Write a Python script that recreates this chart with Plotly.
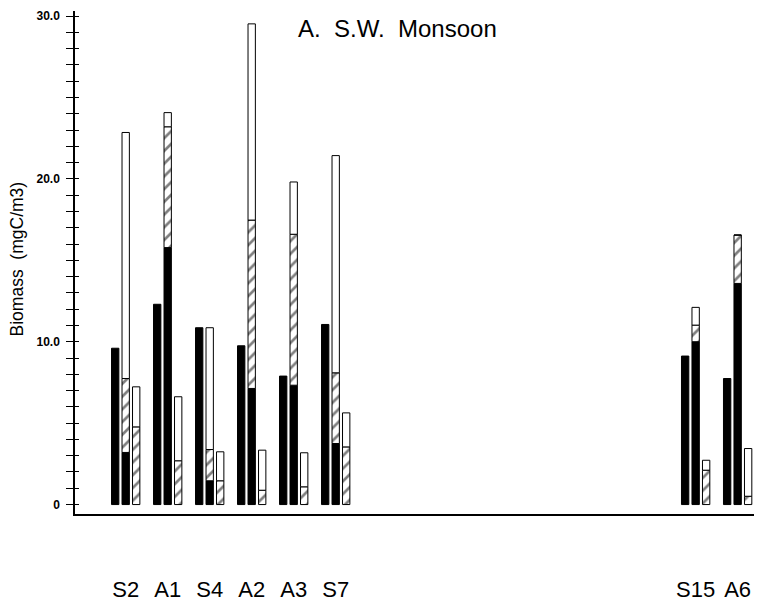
import plotly.graph_objects as go

# stations along the transect
stations = ["S2", "A1", "S4", "A2", "A3", "S7", "S15", "A6"]

# left bar: single solid value
solid_bar = [9.6, 12.3, 10.86, 9.75, 7.89, 11.06, 9.12, 7.74]

# middle bar: black / hatched / open segments
mid_black = [3.2, 15.78, 1.46, 7.13, 7.33, 3.75, 10.0, 13.58]
mid_hatch = [4.54, 7.42, 1.92, 10.34, 9.27, 4.34, 1.02, 2.97]
mid_open = [15.11, 0.87, 7.48, 12.05, 3.21, 13.34, 1.09, 0.0]

# right bar: hatched / open segments
right_hatch = [4.77, 2.69, 1.46, 0.88, 1.09, 3.54, 2.11, 0.51]
right_open = [2.46, 3.93, 1.78, 2.46, 2.09, 2.09, 0.61, 2.93]

y_major = ["0", "10.0", "20.0", "30.0"]

FONT = "Liberation Sans, Arial, sans-serif"
GAP = 7.57  # empty stretch of the transect between S7 and S15
station_x = [i if i < 6 else i + GAP for i in range(len(stations))]
BAR_W = 0.175
STEP = 0.25


def add_bar(fig, shift, heights, bases, color, hatch=False):
    fig.add_trace(go.Bar(
        x=[x + shift for x in station_x],
        y=heights,
        base=bases,
        width=BAR_W,
        marker=dict(
            color=color,
            line=dict(color="black", width=1),
            pattern=dict(shape="/" if hatch else "", fgcolor="black",
                         bgcolor="white", size=9, solidity=0.3),
        ),
        cliponaxis=False,
        hoverinfo="skip",
    ))


fig = go.Figure()
zeros = [0] * len(stations)

add_bar(fig, -STEP, solid_bar, zeros, "black")

add_bar(fig, 0, mid_black, zeros, "black")
hatch_base = mid_black
add_bar(fig, 0, mid_hatch, hatch_base, "white", hatch=True)
open_base = [a + b for a, b in zip(mid_black, mid_hatch)]
add_bar(fig, 0, mid_open, open_base, "white")

add_bar(fig, STEP, right_hatch, zeros, "white", hatch=True)
add_bar(fig, STEP, right_open, right_hatch, "white")

# helper trace so the crossing tick axis is drawn
fig.add_trace(go.Scatter(x=[station_x[0]], y=[0], yaxis="y2", mode="markers",
                         marker=dict(opacity=0), hoverinfo="skip"))

y_range = [-0.58, 30.31]
tick_vals = list(range(0, 31))
tick_text = [y_major[v // 10] if v % 10 == 0 else "" for v in tick_vals]

fig.update_layout(
    width=762,
    height=610,
    margin=dict(l=67, r=14, t=3, b=104),
    paper_bgcolor="white",
    plot_bgcolor="white",
    barmode="overlay",
    showlegend=False,
    font=dict(family=FONT, color="black"),
    xaxis=dict(
        range=[-1.207, 15.007], automargin=False,
        showline=True, linecolor="black", linewidth=1.5,
        tickvals=station_x, ticktext=stations,
        ticks="", showgrid=False, zeroline=False,
        tickfont=dict(size=22, family=FONT, color="black"),
        ticklabelstandoff=55,
    ),
    yaxis=dict(
        range=y_range, automargin=False,
        showline=True, linecolor="black", linewidth=1.5,
        tickvals=tick_vals, ticktext=tick_text,
        ticks="outside", ticklen=7, tickcolor="black", tickwidth=1,
        showgrid=False, zeroline=False,
        tickfont=dict(size=12, family=FONT, color="black", weight="bold"),
        ticklabelstandoff=4, ticklabeloverflow="allow",
    ),
    yaxis2=dict(
        range=y_range, overlaying="y", side="left", anchor="x",
        automargin=False,
        tickvals=tick_vals, showticklabels=False,
        ticks="inside", ticklen=4, tickcolor="black", tickwidth=1,
        showgrid=False, zeroline=False, showline=False,
    ),
    annotations=[
        dict(text="A.\u00a0 S.W.\u00a0 Monsoon", xref="paper", yref="paper",
             x=0.474, y=0.966, xanchor="center", yanchor="middle",
             showarrow=False, font=dict(size=24, family=FONT, color="black")),
        dict(text="Biomass\u00a0 (mgC/m3)", xref="paper", yref="paper",
             x=-0.0852, y=0.508, xanchor="center", yanchor="middle",
             textangle=-90, showarrow=False,
             font=dict(size=17.5, family=FONT, color="black")),
    ],
)

fig.write_html("out.html")
